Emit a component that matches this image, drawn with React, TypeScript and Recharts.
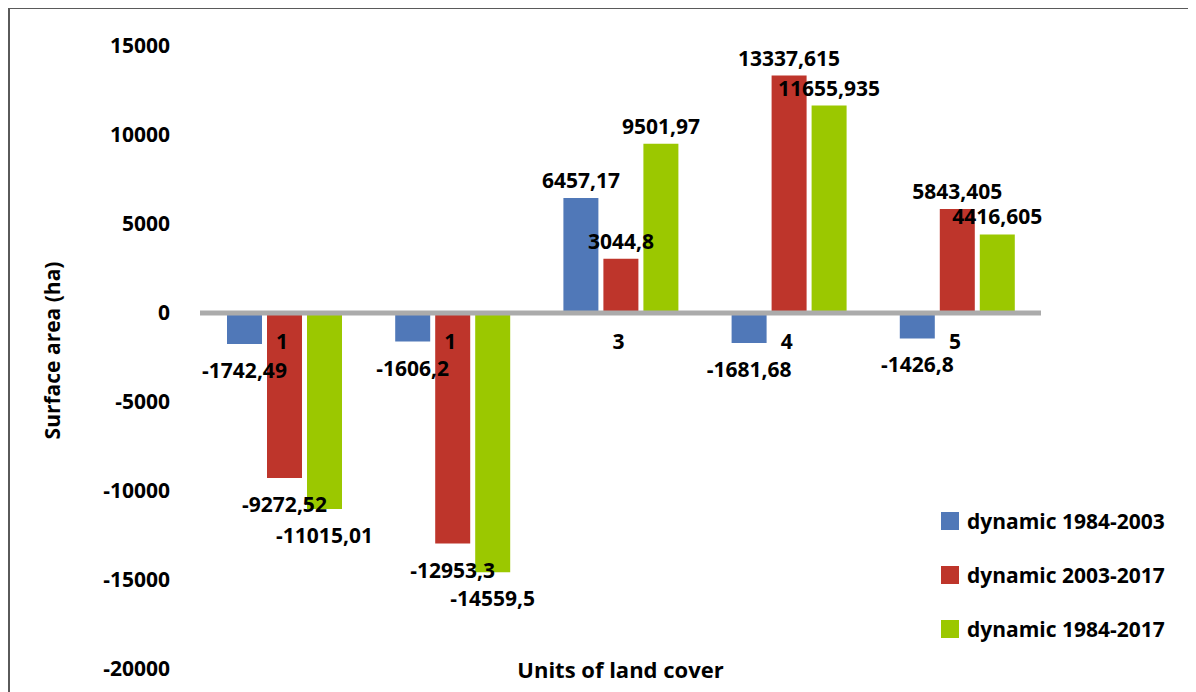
import { ComposedChart, Bar, Line, XAxis, YAxis, ReferenceLine, Legend, LabelList, Label } from 'recharts';

const units = ['1', '1', '3', '4', '5'];
const seriesNames = ['dynamic 1984-2003', 'dynamic 2003-2017', 'dynamic 1984-2017'];
const seriesColors = ['#5078B8', '#BE352B', '#9BC800'];
const dyn8403 = [-1742.49, -1606.2, 6457.17, -1681.68, -1426.8];
const dyn0317 = [-9272.52, -12953.3, 3044.8, 13337.615, 5843.405];
const dyn8417 = [-11015.01, -14559.5, 9501.97, 11655.935, 4416.605];
const yTicks = [15000, 10000, 5000, 0, -5000, -10000, -15000, -20000];

const data = units.map((unit, i) => ({
  unit,
  a: dyn8403[i],
  b: dyn0317[i],
  c: dyn8417[i],
  base: 0,
}));

const FONT = '"Open Sans", sans-serif';

const fmt = (v: number) => String(v).replace('.', ',');

const ValueLabel = (props: any) => {
  const { x, y, width, height, value } = props;
  const top = Math.min(y, y + height);
  const bottom = Math.max(y, y + height);
  const ty = value >= 0 ? top - 18 : bottom + 26;
  return (
    <text x={x + width / 2} y={ty} textAnchor='middle' dominantBaseline='central' fontSize={21} fontWeight={700} fill='#000'>
      {fmt(value)}
    </text>
  );
};

const UnitLabel = (props: any) => {
  const { x, y, value } = props;
  return (
    <text x={x - 2} y={y + 28} textAnchor='middle' dominantBaseline='central' fontSize={21} fontWeight={700} fill='#000'>
      {value}
    </text>
  );
};

const YTitle = (props: any) => {
  const { viewBox } = props;
  const cx = viewBox.x + 42;
  const cy = viewBox.y + viewBox.height / 2 - 7;
  return (
    <text x={cx} y={cy} transform={`rotate(-90, ${cx}, ${cy})`} textAnchor='middle' dominantBaseline='central' fontSize={21} fontWeight={700} fill='#000'>
      Surface area (ha)
    </text>
  );
};

const XTitle = (props: any) => {
  const { viewBox } = props;
  return (
    <text x={viewBox.x + viewBox.width / 2} y={viewBox.y} textAnchor='middle' dominantBaseline='central' fontSize={22} fontWeight={700} fill='#000'>
      Units of land cover
    </text>
  );
};

// legend in series order (recharts sorts by name otherwise)
const LegendBox = () => (
  <div>
    {seriesNames.map((name, i) => (
      <div key={name} style={{ display: 'flex', alignItems: 'center', height: 18, marginBottom: 36 }}>
        <span style={{ width: 18, height: 18, background: seriesColors[i], display: 'inline-block' }} />
        <span style={{ marginLeft: 8, fontSize: 21, fontWeight: 700, color: '#000', lineHeight: '18px', whiteSpace: 'nowrap' }}>{name}</span>
      </div>
    ))}
  </div>
);

export default function App() {
  return (
    <div style={{ width: 1188, height: 685, marginTop: -1, borderTop: '2px solid #5a5a5a', borderLeft: '2px solid #5a5a5a', fontFamily: FONT, overflow: 'hidden', boxSizing: 'border-box' }}>
      <style>{'body{overflow:hidden}'}</style>
      <ComposedChart width={1186} height={683} data={data} margin={{ top: 37, right: 155, bottom: 0, left: 0 }} barSize={35} barGap={5}>
        <XAxis dataKey='unit' tick={false} axisLine={false} tickLine={false} height={23}>
          <Label content={<XTitle />} />
        </XAxis>
        <YAxis
          domain={[-20000, 15000]}
          ticks={yTicks}
          width={190}
          axisLine={false}
          tickLine={false}
          tickSize={0}
          tickMargin={30}
          tick={{ fill: '#000', fontSize: 21, fontWeight: 700 }}
        >
          <Label content={<YTitle />} />
        </YAxis>
        <Legend layout='vertical' align='center' verticalAlign='middle' wrapperStyle={{ left: 931, top: 503, width: 250 }} content={<LegendBox />} />
        <Bar dataKey='a' name={seriesNames[0]} fill={seriesColors[0]} isAnimationActive={false}>
          <LabelList dataKey='a' content={<ValueLabel />} />
        </Bar>
        <Bar dataKey='b' name={seriesNames[1]} fill={seriesColors[1]} isAnimationActive={false}>
          <LabelList dataKey='b' content={<ValueLabel />} />
        </Bar>
        <Bar dataKey='c' name={seriesNames[2]} fill={seriesColors[2]} isAnimationActive={false}>
          <LabelList dataKey='c' content={<ValueLabel />} />
        </Bar>
        <ReferenceLine y={0} stroke='#ABABAB' strokeWidth={5} />
        <Line dataKey='base' stroke='none' dot={false} activeDot={false} legendType='none' isAnimationActive={false}>
          <LabelList dataKey='unit' content={<UnitLabel />} />
        </Line>
      </ComposedChart>
    </div>
  );
}
